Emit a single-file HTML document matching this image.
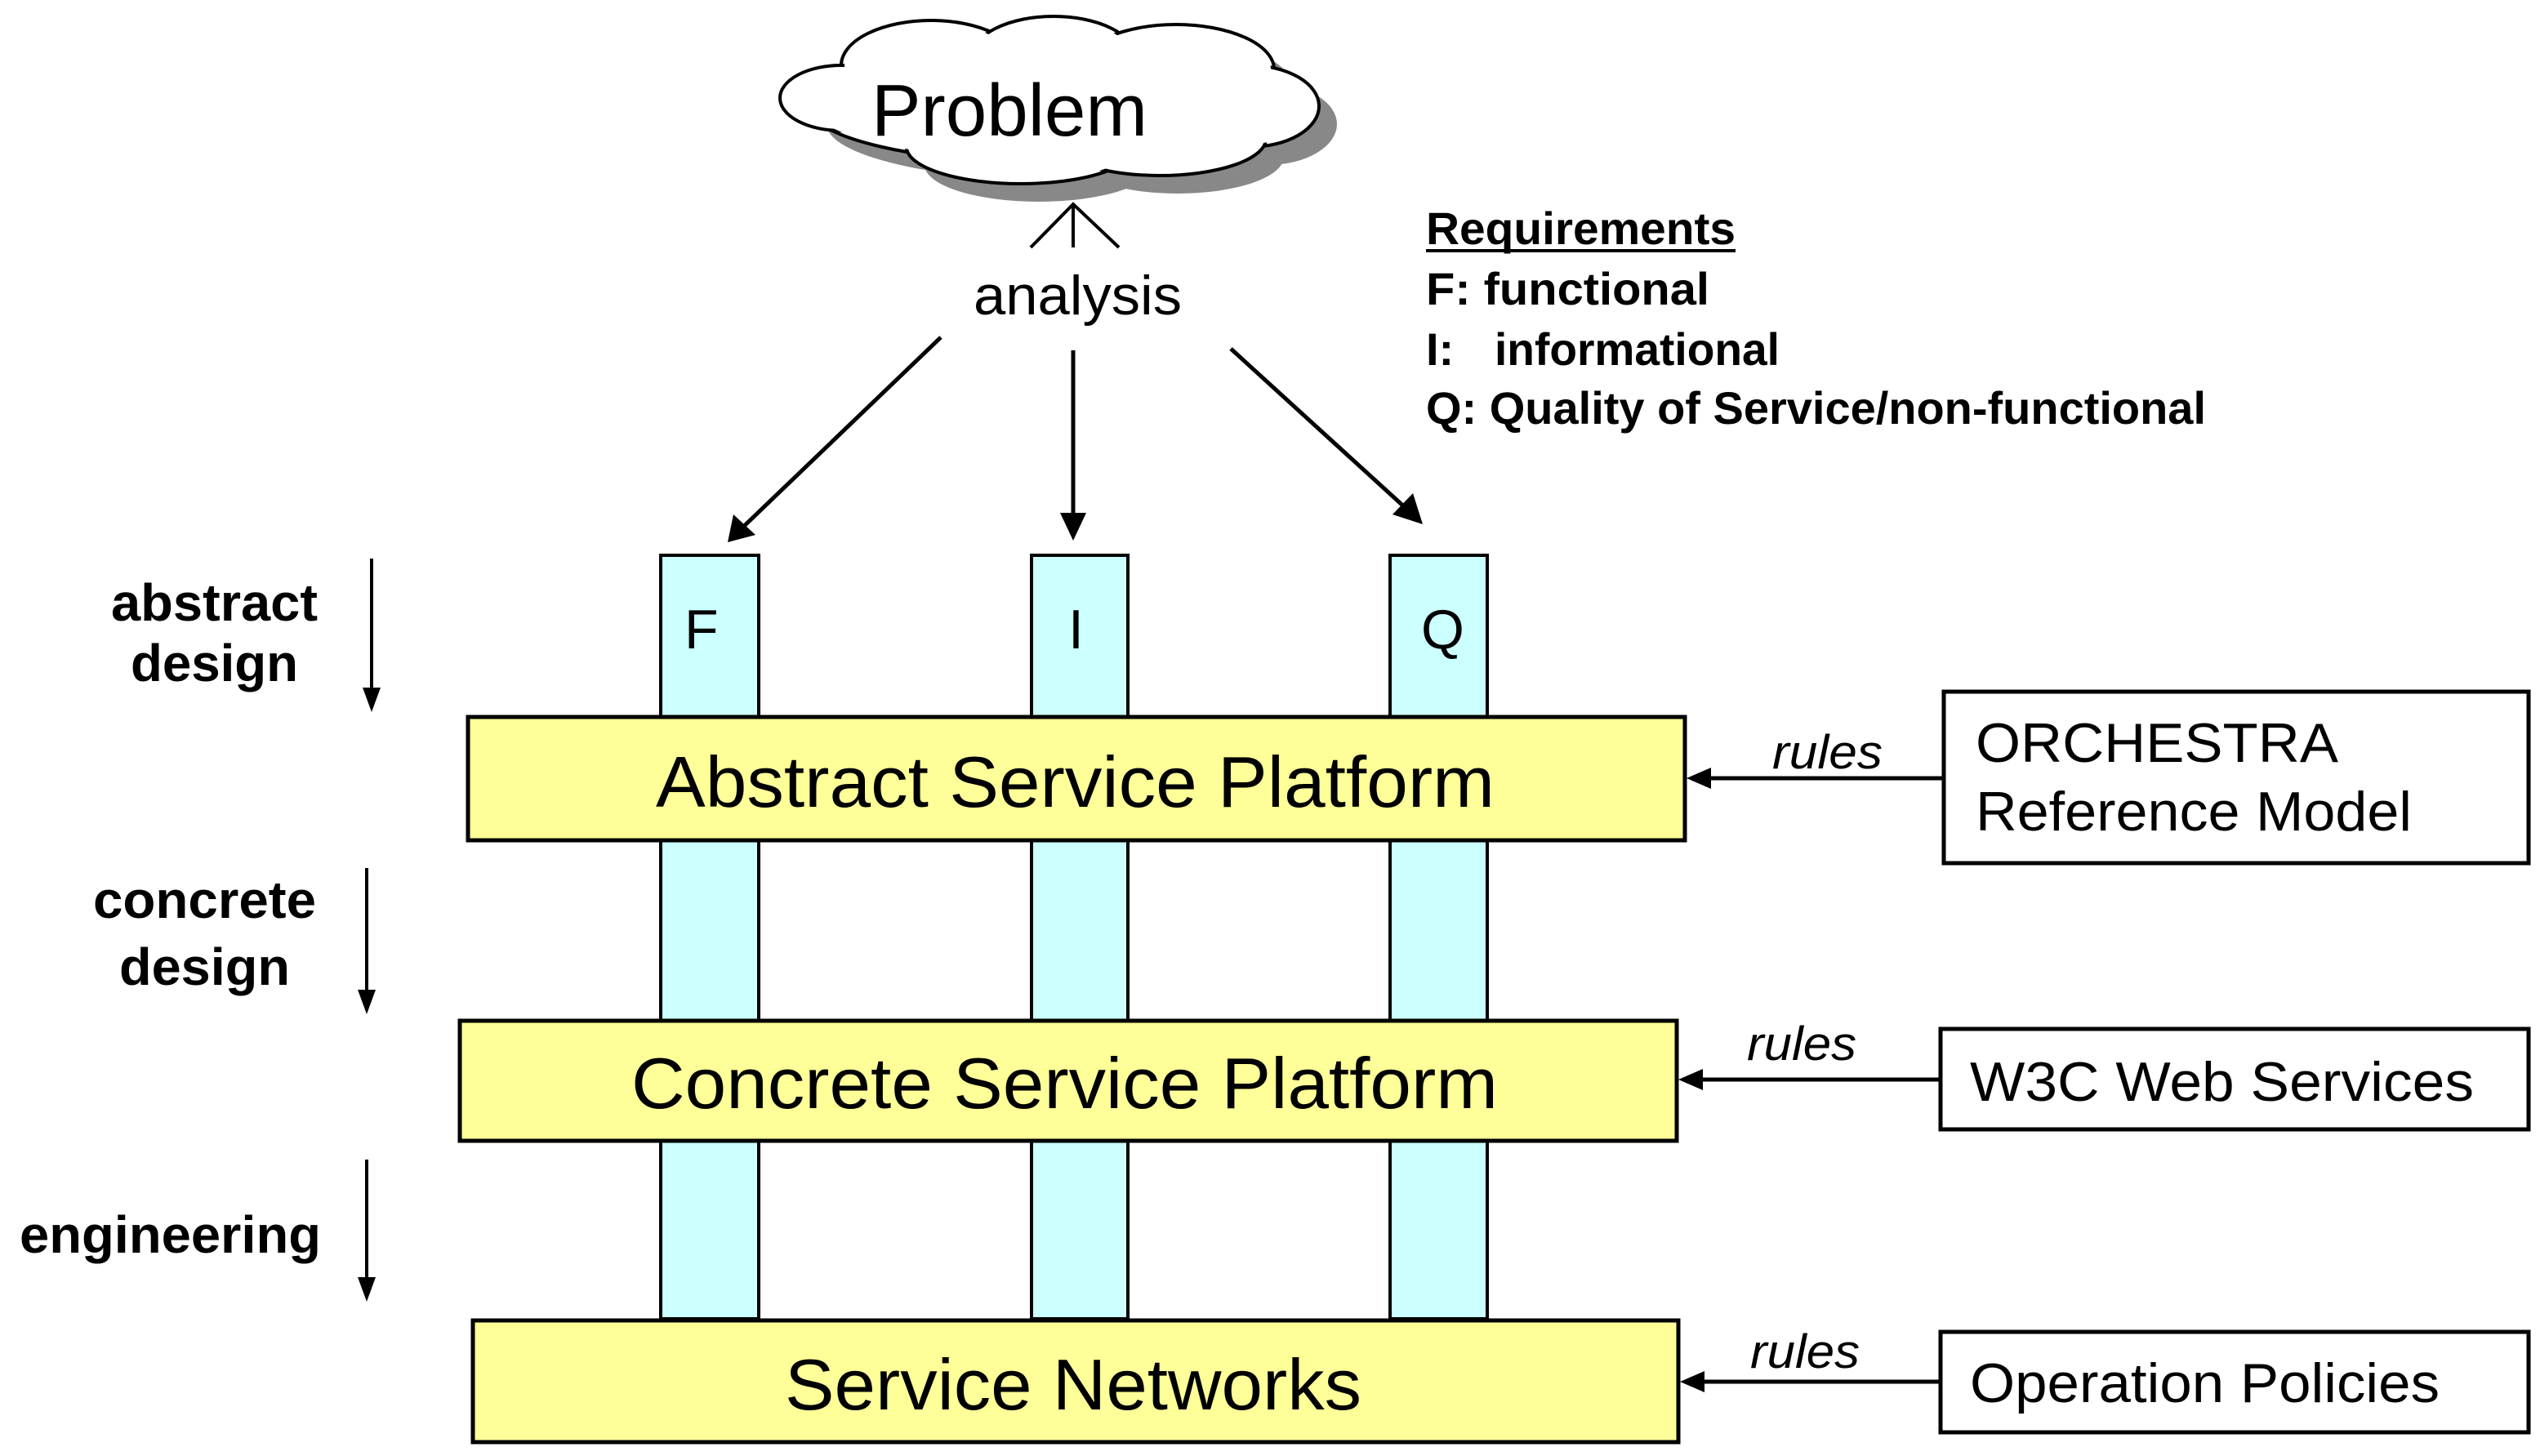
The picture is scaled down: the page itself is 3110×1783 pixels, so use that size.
<!DOCTYPE html>
<html><head><meta charset="utf-8"><style>
html,body{margin:0;padding:0;background:#fff;}
svg{display:block;}
text{font-family:"Liberation Sans",sans-serif;fill:#000;}
</style></head><body>
<svg width="3110" height="1783" viewBox="0 0 3110 1783" xmlns="http://www.w3.org/2000/svg">
<defs>
<marker id="ah" markerWidth="10" markerHeight="10" refX="9" refY="5" orient="auto" markerUnits="userSpaceOnUse" viewBox="0 0 10 10">
</marker>
</defs>
<!-- cloud shadow -->
<g fill="#888" transform="translate(22,22)">
<ellipse cx="1290" cy="130" rx="300" ry="70"/>
<ellipse cx="1140" cy="80" rx="110" ry="55"/>
<ellipse cx="1290" cy="70" rx="100" ry="50"/>
<ellipse cx="1440" cy="85" rx="120" ry="55"/>
<ellipse cx="1530" cy="130" rx="85" ry="50"/>
<ellipse cx="1250" cy="180" rx="140" ry="45"/>
<ellipse cx="1420" cy="170" rx="130" ry="45"/>
</g>
<!-- cloud -->
<g fill="#fff" stroke="#000" stroke-width="4">
<ellipse cx="1290" cy="130" rx="300" ry="70"/>
<ellipse cx="1140" cy="80" rx="110" ry="55"/>
<ellipse cx="1290" cy="70" rx="100" ry="50"/>
<ellipse cx="1440" cy="85" rx="120" ry="55"/>
<ellipse cx="1530" cy="130" rx="85" ry="50"/>
<ellipse cx="1250" cy="180" rx="140" ry="45"/>
<ellipse cx="1420" cy="170" rx="130" ry="45"/>
<ellipse cx="1030" cy="120" rx="75" ry="40"/>
</g>
<g fill="#fff" stroke="none">
<ellipse cx="1290" cy="130" rx="296" ry="66"/>
<ellipse cx="1140" cy="80" rx="106" ry="51"/>
<ellipse cx="1290" cy="70" rx="96" ry="46"/>
<ellipse cx="1440" cy="85" rx="116" ry="51"/>
<ellipse cx="1530" cy="130" rx="81" ry="46"/>
<ellipse cx="1250" cy="180" rx="136" ry="41"/>
<ellipse cx="1420" cy="170" rx="126" ry="41"/>
<ellipse cx="1030" cy="120" rx="71" ry="36"/>
</g>
<text x="1067" y="166" font-size="90" textLength="338" lengthAdjust="spacingAndGlyphs">Problem</text>

<!-- analysis up arrow -->
<g stroke="#000" stroke-width="4" fill="none">
<line x1="1314" y1="250" x2="1314" y2="303"/>
<polyline points="1262,303 1314,250 1370,303"/>
</g>
<text x="1192" y="385" font-size="68" textLength="255" lengthAdjust="spacingAndGlyphs">analysis</text>

<!-- analysis arrows -->
<g stroke="#000" stroke-width="5">
<line x1="1152" y1="413" x2="905" y2="650"/>
<line x1="1314" y1="429" x2="1314" y2="635"/>
<line x1="1507" y1="427" x2="1722" y2="623"/>
</g>
<polygon points="891,664 898,630 925,655" fill="#000"/>
<polygon points="1314,662 1298,628 1330,628" fill="#000"/>
<polygon points="1742,642 1705,630 1730,604" fill="#000"/>

<!-- Requirements -->
<g font-size="56" font-weight="bold">
<text x="1746" y="299" textLength="379" lengthAdjust="spacingAndGlyphs">Requirements</text>
<line x1="1746" y1="307" x2="2125" y2="307" stroke="#000" stroke-width="4"/>
<text x="1746" y="373" textLength="347" lengthAdjust="spacingAndGlyphs">F:  functional</text>
<text x="1746" y="447">I:</text>
<text x="1830" y="447" textLength="349" lengthAdjust="spacingAndGlyphs">informational</text>
<text x="1746" y="519" textLength="955" lengthAdjust="spacingAndGlyphs">Q: Quality of Service/non-functional</text>
</g>

<!-- pillars -->
<g fill="#ccffff" stroke="#000" stroke-width="4">
<rect x="809" y="680" width="120" height="935"/>
<rect x="1263" y="680" width="118" height="935"/>
<rect x="1702" y="680" width="119" height="935"/>
</g>
<g font-size="68">
<text x="838" y="794">F</text>
<text x="1308" y="794">I</text>
<text x="1740" y="794">Q</text>
</g>

<!-- platforms -->
<g fill="#ffff99" stroke="#000" stroke-width="5">
<rect x="573" y="878" width="1490" height="151"/>
<rect x="563" y="1250" width="1490" height="147"/>
<rect x="579" y="1617" width="1476" height="149"/>
</g>
<g font-size="88">
<text x="803" y="988" textLength="1027" lengthAdjust="spacingAndGlyphs">Abstract Service Platform</text>
<text x="773" y="1357" textLength="1061" lengthAdjust="spacingAndGlyphs">Concrete Service Platform</text>
<text x="961" y="1726" textLength="706" lengthAdjust="spacingAndGlyphs">Service Networks</text>
</g>

<!-- left labels -->
<g font-size="64" font-weight="bold">
<text x="136" y="760" textLength="253" lengthAdjust="spacingAndGlyphs">abstract</text>
<text x="160" y="834" textLength="205" lengthAdjust="spacingAndGlyphs">design</text>
<text x="114" y="1124" textLength="273" lengthAdjust="spacingAndGlyphs">concrete</text>
<text x="146" y="1206" textLength="209" lengthAdjust="spacingAndGlyphs">design</text>
<text x="24" y="1534" textLength="369" lengthAdjust="spacingAndGlyphs">engineering</text>
</g>
<g stroke="#000" stroke-width="4">
<line x1="455" y1="684" x2="455" y2="850"/>
<line x1="449" y1="1063" x2="449" y2="1220"/>
<line x1="449" y1="1420" x2="449" y2="1572"/>
</g>
<g fill="#000">
<polygon points="455,872 444,842 466,842"/>
<polygon points="449,1242 438,1212 460,1212"/>
<polygon points="449,1594 438,1564 460,1564"/>
</g>

<!-- right boxes -->
<g fill="#fff" stroke="#000" stroke-width="5">
<rect x="2380" y="847" width="716" height="210"/>
<rect x="2376" y="1260" width="720" height="123"/>
<rect x="2376" y="1631" width="720" height="123"/>
</g>
<g font-size="68">
<text x="2419" y="933" textLength="444" lengthAdjust="spacingAndGlyphs">ORCHESTRA</text>
<text x="2419" y="1017" textLength="534" lengthAdjust="spacingAndGlyphs">Reference Model</text>
<text x="2412" y="1348" textLength="617" lengthAdjust="spacingAndGlyphs">W3C Web Services</text>
<text x="2412" y="1717" textLength="575" lengthAdjust="spacingAndGlyphs">Operation Policies</text>
</g>

<!-- rules arrows -->
<g stroke="#000" stroke-width="5">
<line x1="2380" y1="953" x2="2085" y2="953"/>
<line x1="2376" y1="1322" x2="2075" y2="1322"/>
<line x1="2376" y1="1692" x2="2077" y2="1692"/>
</g>
<g fill="#000">
<polygon points="2065,953 2095,940 2095,966"/>
<polygon points="2055,1322 2085,1309 2085,1335"/>
<polygon points="2057,1692 2087,1679 2087,1705"/>
</g>
<g font-size="58" font-style="italic">
<text x="2170" y="941" textLength="135" lengthAdjust="spacingAndGlyphs">rules</text>
<text x="2139" y="1298" textLength="134" lengthAdjust="spacingAndGlyphs">rules</text>
<text x="2143" y="1675" textLength="134" lengthAdjust="spacingAndGlyphs">rules</text>
</g>
</svg>
</body></html>
